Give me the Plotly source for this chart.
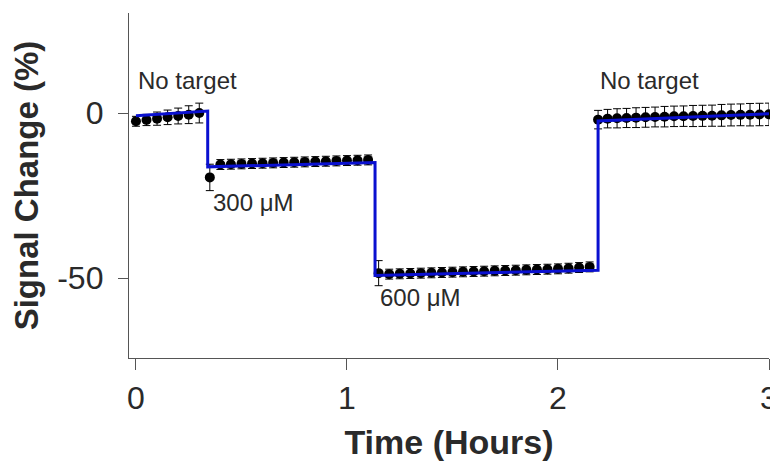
import plotly.graph_objects as go

# Segment 1: no target
t1 = [0.00, 0.05, 0.10, 0.15, 0.20, 0.25, 0.30]
v1 = [-2.5, -2.1, -1.7, -1.3, -0.9, -0.5, 0.0]
e1 = [1.5, 1.7, 2.0, 2.2, 2.4, 2.7, 3.0]

# Segment 2: 300 uM
t2 = [0.35, 0.40, 0.45, 0.50, 0.55, 0.60, 0.65, 0.70, 0.75, 0.80, 0.85, 0.90, 0.95, 1.00, 1.05, 1.10]
v2 = [-19.5, -15.6, -15.5, -15.4, -15.3, -15.2, -15.1, -15.0, -14.9, -14.8, -14.7, -14.6, -14.5, -14.4, -14.3, -14.2]
e2 = [4.0, 1.5, 1.5, 1.5, 1.5, 1.5, 1.5, 1.5, 1.5, 1.5, 1.5, 1.5, 1.5, 1.5, 1.5, 1.5]

# Segment 3: 600 uM
t3 = [1.15, 1.20, 1.25, 1.30, 1.35, 1.40, 1.45, 1.50, 1.55, 1.60, 1.65, 1.70, 1.75, 1.80, 1.85, 1.90, 1.95, 2.00, 2.05, 2.10, 2.15]
v3 = [-48.5, -48.8, -48.7, -48.6, -48.5, -48.4, -48.3, -48.2, -48.1, -48.0, -47.9, -47.8, -47.7, -47.6, -47.5, -47.4, -47.3, -47.2, -47.0, -46.8, -46.6]
e3 = [3.8, 1.5, 1.5, 1.5, 1.5, 1.5, 1.5, 1.5, 1.5, 1.5, 1.5, 1.5, 1.5, 1.5, 1.5, 1.5, 1.5, 1.5, 1.5, 1.5, 1.5]

# Segment 4: no target
t4 = [2.19, 2.235, 2.28, 2.325, 2.37, 2.415, 2.46, 2.505, 2.55, 2.595, 2.64, 2.685, 2.73, 2.775, 2.82, 2.865, 2.91, 2.955, 3.00]
v4 = [-2.0, -1.7, -1.6, -1.5, -1.4, -1.3, -1.2, -1.1, -1.0, -0.95, -0.9, -0.85, -0.8, -0.7, -0.6, -0.55, -0.5, -0.45, -0.4]
e4 = [2.8, 2.8, 2.9, 2.9, 3.0, 3.0, 3.0, 3.1, 3.1, 3.1, 3.2, 3.2, 3.2, 3.3, 3.3, 3.3, 3.4, 3.4, 3.4]

# Blue step trace
step_t = [0.0, 0.34, 0.34, 1.133, 1.133, 2.19, 2.19, 3.0]
step_v = [-0.8, 0.6, -16.3, -15.0, -49.2, -47.6, -2.4, -0.2]

# Annotations
ann_text = ["No target", "300 \u03bcM", "600 \u03bcM", "No target"]
ann_x = [0.0, 0.355, 1.147, 2.19]
ann_y = [10.0, -27.0, -56.0, 10.0]

FONT = "Liberation Sans, Arial, sans-serif"
TXT = "#2a2a2a"

fig = go.Figure()
for t, v, e in [(t1, v1, e1), (t2, v2, e2), (t3, v3, e3), (t4, v4, e4)]:
    fig.add_trace(go.Scatter(
        x=t, y=v, mode="markers",
        marker=dict(color="black", size=10),
        error_y=dict(type="data", array=e, visible=True, color="black", thickness=1, width=4),
        showlegend=False, cliponaxis=False,
    ))

fig.add_trace(go.Scatter(
    x=step_t, y=step_v, mode="lines",
    line=dict(color="#0a10d0", width=3),
    showlegend=False, cliponaxis=False,
))

for txt, x, y in zip(ann_text, ann_x, ann_y):
    fig.add_annotation(x=x, y=y, text=txt, showarrow=False, xanchor="left", yanchor="middle",
                       font=dict(family=FONT, size=24, color=TXT))

fig.update_layout(
    width=770, height=456,
    margin=dict(l=121, r=9, t=5, b=106),
    paper_bgcolor="white", plot_bgcolor="white",
    font=dict(family=FONT, color=TXT),
    xaxis=dict(
        range=[-0.033, 3.0], tickvals=[0, 1, 2, 3], ticktext=["0", "1", "2", "3"],
        showgrid=False, zeroline=False, automargin=False,
        showline=True, linecolor="#555555", linewidth=1.3,
        ticks="outside", ticklen=11, tickwidth=1.3, tickcolor="#555555",
        tickfont=dict(family=FONT, size=32, color=TXT),
        ticklabelstandoff=0,
        title=dict(text="<b>Time (Hours)</b>", font=dict(family=FONT, size=34, color=TXT), standoff=15),
    ),
    yaxis=dict(
        range=[-74.2, 30.3], tickvals=[0, -50], ticktext=["0", "-50"],
        showgrid=False, zeroline=False, automargin=False,
        showline=True, linecolor="#555555", linewidth=1.3,
        ticks="outside", ticklen=10, tickwidth=1.3, tickcolor="#555555",
        tickfont=dict(family=FONT, size=32, color=TXT),
        ticklabelstandoff=8,
        title=dict(text="<b>Signal Change (%)</b>", font=dict(family=FONT, size=33, color=TXT), standoff=12),
    ),
)

fig.write_html("out.html")
